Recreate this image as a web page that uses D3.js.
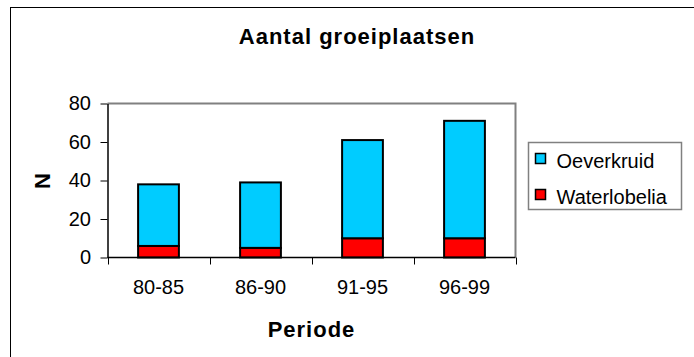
<!DOCTYPE html>
<meta charset="utf-8">
<script src="https://d3js.org/d3.v7.min.js"></script>
<style>
  body { margin: 0; background: #fff; }
  text { font-family: "Liberation Sans", Arial, sans-serif; fill: #000; }
</style>
<div id="chart"></div>
<script>

// data
const periods = ["80-85", "86-90", "91-95", "96-99"];
const waterlobelia = [6, 5, 10, 10];
const oeverkruid = [32, 34, 51, 61];
const yTicks = [0, 20, 40, 60, 80];
const seriesNames = ["Oeverkruid", "Waterlobelia"];
const seriesColors = ["#00CCFF", "#FF0000"];

const W = 694, H = 357;
const plot = {left: 107.5, right: 515.5, top: 103.5, bottom: 257.5};

const svg = d3.select("#chart").append("svg")
    .attr("width", W)
    .attr("height", H);

// outer chart frame (runs off the right and bottom of the picture)
svg.append("rect")
    .attr("x", 10.5).attr("y", 7.5)
    .attr("width", 694).attr("height", 400)
    .attr("fill", "#fff")
    .attr("stroke", "#000")
    .attr("stroke-width", 1);

// title
svg.append("text")
    .attr("x", 357).attr("y", 44)
    .attr("text-anchor", "middle")
    .style("font-size", "22px")
    .style("font-weight", "bold")
    .style("letter-spacing", "1px")
    .text("Aantal groeiplaatsen");

const x = d3.scaleBand()
    .domain(periods)
    .range([plot.left, plot.right])
    .paddingInner(0.6)
    .paddingOuter(0.3);

const y = d3.scaleLinear()
    .domain([0, 80])
    .range([plot.bottom, plot.top]);

// plot area border (grey top/right)
svg.append("path")
    .attr("d", `M${plot.left},${plot.top}H${plot.right}V${plot.bottom}`)
    .attr("fill", "none")
    .attr("stroke", "#808080")
    .attr("stroke-width", 2);

// stacked data
const rows = periods.map((p, i) => ({period: p, Waterlobelia: waterlobelia[i], Oeverkruid: oeverkruid[i]}));
const stack = d3.stack().keys(["Waterlobelia", "Oeverkruid"])(rows);
const color = d3.scaleOrdinal().domain(seriesNames).range(seriesColors);

svg.append("g")
  .selectAll("g")
  .data(stack)
  .join("g")
    .attr("fill", d => color(d.key))
  .selectAll("rect")
  .data(d => d)
  .join("rect")
    .attr("x", d => x(d.data.period))
    .attr("y", d => y(d[1]))
    .attr("width", x.bandwidth())
    .attr("height", d => y(d[0]) - y(d[1]))
    .attr("stroke", "#000")
    .attr("stroke-width", 2);

// Y axis
const yAxis = svg.append("g")
    .attr("transform", `translate(${plot.left},0)`)
    .call(d3.axisLeft(y).tickValues(yTicks).tickSize(7).tickPadding(9.5).tickSizeOuter(0));
yAxis.select(".domain").attr("stroke", "#000").attr("stroke-width", 1.5);
yAxis.selectAll(".tick line").attr("stroke", "#000");
yAxis.selectAll("text")
    .style("font-size", "20px")
    .style("font-family", "'Liberation Sans', Arial, sans-serif")
    .attr("fill", "#000");

// X axis: line, boundary ticks, centred labels
const xAxis = svg.append("g")
    .attr("transform", `translate(0,${plot.bottom})`);
xAxis.append("line")
    .attr("x1", plot.left).attr("x2", plot.right)
    .attr("stroke", "#000").attr("stroke-width", 1.5);
const gap = (x.step() - x.bandwidth()) / 2;
const bounds = periods.map(p => x(p) - gap).concat([x(periods[periods.length - 1]) + x.bandwidth() + gap]);
xAxis.selectAll(".bt")
  .data(bounds)
  .join("line")
    .attr("class", "bt")
    .attr("x1", d => Math.round(d) + 0.5).attr("x2", d => Math.round(d) + 0.5)
    .attr("y1", 0).attr("y2", 7)
    .attr("stroke", "#000");
xAxis.selectAll(".lbl")
  .data(periods)
  .join("text")
    .attr("class", "lbl")
    .attr("x", d => x(d) + x.bandwidth() / 2)
    .attr("y", 36.5)
    .attr("text-anchor", "middle")
    .style("font-size", "20px")
    .text(d => d);

// axis titles
svg.append("text")
    .attr("x", (plot.left + plot.right) / 2).attr("y", 337)
    .attr("text-anchor", "middle")
    .style("font-size", "22px")
    .style("font-weight", "bold")
    .style("letter-spacing", "1px")
    .text("Periode");

svg.append("text")
    .attr("transform", `translate(50,181) rotate(-90)`)
    .attr("text-anchor", "middle")
    .style("font-size", "22px")
    .style("font-weight", "bold")
    .text("N");

// legend
const legend = svg.append("g").attr("transform", "translate(528.5,142.5)");
legend.append("rect")
    .attr("width", 153).attr("height", 67)
    .attr("fill", "#fff")
    .attr("stroke", "#808080")
    .attr("stroke-width", 1.5);
const items = legend.selectAll(".item")
  .data(seriesNames)
  .join("g")
    .attr("class", "item")
    .attr("transform", (d, i) => `translate(7,${11 + i * 36})`);
items.append("rect")
    .attr("width", 10).attr("height", 10)
    .attr("fill", d => color(d))
    .attr("stroke", "#000")
    .attr("stroke-width", 1.5);
items.append("text")
    .attr("x", 21).attr("y", 14)
    .style("font-size", "20px")
    .text(d => d);

</script>
